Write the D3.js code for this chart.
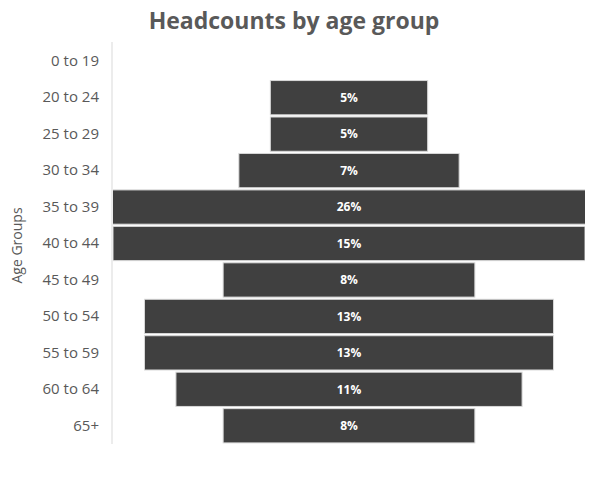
<!DOCTYPE html>
<html>
<head>
<meta charset="utf-8">
<script src="https://cdn.jsdelivr.net/npm/d3@7/dist/d3.min.js"></script>
<style>
  html, body { margin: 0; padding: 0; background: #fff; }
  svg { display: block; font-family: "Open Sans", "Noto Sans", sans-serif; }
</style>
</head>
<body>
<svg id="chart" width="590" height="481"></svg>
<script>
// Age groups, top to bottom
const ageGroups = ["0 to 19", "20 to 24", "25 to 29", "30 to 34", "35 to 39", "40 to 44",
                   "45 to 49", "50 to 54", "55 to 59", "60 to 64", "65+"];
// Share of headcount per group, percent (null = no bar)
const shares = [null, 5, 5, 7, 26, 15, 8, 13, 13, 11, 8];

const svg = d3.select("#chart");
const W = 590, H = 481;
const plot = { left: 113, right: 585, top: 43, bottom: 444 };

// Bars are centred on zero; each bar spans -v/2 .. v/2, so the axis covers 15 points
const x = d3.scaleLinear().domain([-7.5, 7.5]).range([plot.left, plot.right]);
const y = d3.scaleBand().domain(ageGroups).range([plot.top, plot.bottom]).paddingInner(0.06).paddingOuter(0.03);

svg.append("defs").append("clipPath").attr("id", "plotClip")
  .append("rect")
  .attr("x", plot.left).attr("y", plot.top)
  .attr("width", plot.right - plot.left).attr("height", plot.bottom - plot.top);

// Title
svg.append("text")
  .attr("x", W / 2 - 1).attr("y", 29)
  .attr("text-anchor", "middle")
  .attr("font-size", 23).attr("font-weight", "bold")
  .attr("fill", "#595959")
  .text("Headcounts by age group");

// Bars
const data = ageGroups.map((g, i) => ({ group: g, value: shares[i] })).filter(d => d.value != null);

const bars = svg.append("g").attr("clip-path", "url(#plotClip)");
bars.selectAll("rect").data(data).join("rect")
  .attr("x", d => x(-d.value / 2))
  .attr("y", d => y(d.group))
  .attr("width", d => x(d.value / 2) - x(-d.value / 2))
  .attr("height", y.bandwidth())
  .attr("fill", "#404040")
  .attr("stroke", "#d9d9d9")
  .attr("stroke-width", 1);

// Value labels
svg.append("g").selectAll("text").data(data).join("text")
  .attr("x", x(0))
  .attr("y", d => y(d.group) + y.bandwidth() / 2)
  .attr("dy", "0.35em")
  .attr("text-anchor", "middle")
  .attr("font-size", 12).attr("font-weight", "bold")
  .attr("fill", "#ffffff")
  .text(d => d.value + "%");

// Category axis
const yAxis = d3.axisLeft(y).tickSize(0).tickPadding(13);
const ag = svg.append("g").attr("transform", `translate(${plot.left - 1},0)`).call(yAxis);
ag.select(".domain").attr("stroke", "#d9d9d9").attr("d", `M0,${plot.top - 1}V${plot.bottom}`);
ag.selectAll("text")
  .attr("font-family", "\"Open Sans\", \"Noto Sans\", sans-serif")
  .attr("font-size", 15).attr("fill", "#595959");

// Axis title
svg.append("text")
  .attr("transform", `translate(22,${(plot.top + plot.bottom) / 2 + 2}) rotate(-90)`)
  .attr("text-anchor", "middle")
  .attr("font-size", 14).attr("fill", "#595959")
  .text("Age Groups");
</script>
</body>
</html>
